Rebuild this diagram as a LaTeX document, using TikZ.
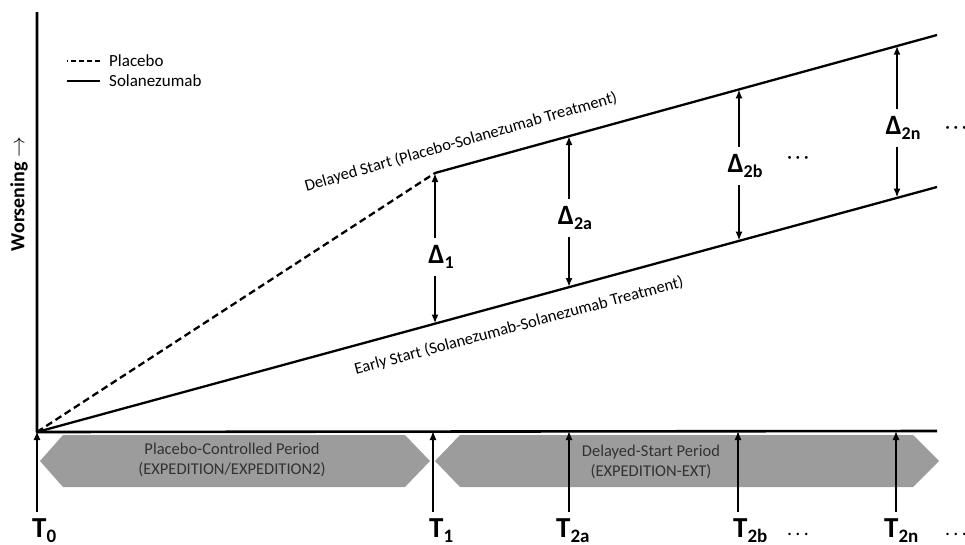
\documentclass[tikz,border=0pt]{standalone}
\usepackage{fontspec}
\setmainfont{Carlito}
\usetikzlibrary{arrows.meta}
\definecolor{bandgray}{RGB}{156,156,156}
\definecolor{bandtext}{RGB}{50,50,50}
\newcommand{\lowsub}[2][15]{\raisebox{-0.2em}{\fontsize{#1}{#1}\selectfont #2}}
\tikzset{
  curve/.style={line width=2.3pt},
  gap/.style={->, line width=1.8pt},
  tick/.style={->, line width=1.3pt},
  delta/.style={font=\fontsize{28}{28}\selectfont\bfseries, inner xsep=2pt, inner ysep=7pt},
  tlabel/.style={font=\fontsize{29}{29}\selectfont\bfseries, inner sep=1pt, anchor=base west},
  band/.style={fill=bandgray, draw=none},
  bandlabel/.style={align=center, text=bandtext, font=\fontsize{16.5}{20}\selectfont},
  lean/.style={font=\fontsize{16.5}{16.5}\selectfont, inner sep=0pt},
  legend/.style={font=\fontsize{17}{17}\selectfont, anchor=west, inner sep=0pt},
  more/.style={font=\fontsize{20}{20}\selectfont, inner sep=0pt},
}
\begin{document}
\begin{tikzpicture}[x=1pt, y=-1pt, line join=round, >={Latex[length=9pt,width=7pt]}]
\useasboundingbox (0,0) rectangle (965,544);
\path
(37,432) coordinate (O)
(37,12) coordinate (Y)
(937,431) coordinate (X)
(435,173) coordinate (K)
(937,35) coordinate (U)
(937,187) coordinate (L);
% periods
\fill[band] (40,461)--(63,435)--(405,435)--(430,461)--(405,487)--(63,487)--cycle;
\fill[band] (435,461)--(460,435)--(913,435)--(939,461)--(913,487)--(460,487)--cycle;
\node[bandlabel] (pcp) at (232,460) {Placebo-Controlled Period\\(EXPEDITION/EXPEDITION2)};
\node[bandlabel] (dsp) at (651,462) {Delayed-Start Period\\(EXPEDITION-EXT)};
% axes and curves
\draw[line width=2.6pt] (Y)--(O)--(X);
\draw[curve, dash pattern=on 7pt off 4pt] (O)--(K);
\draw[curve] (K)--(U) (O)--(L);
\node[rotate=90, font=\fontsize{20}{20}\selectfont\bfseries] (ylab) at (19,194) {Worsening $\rightarrow$};
\node[lean, rotate=16] (late) at (461,142) {Delayed Start (Placebo-Solanezumab Treatment)};
\node[lean, rotate=15] (early) at (519,326) {Early Start (Solanezumab-Solanezumab Treatment)};
% legend
\node[legend] (lp) at (109,61) {Placebo};
\node[legend] (ls) at (109,81) {Solanezumab};
\draw[line width=2.2pt, dash pattern=on 5pt off 3pt] ([xshift=-9pt]lp.west) -- ++(-33,0);
\draw[line width=2.2pt] ([xshift=-9pt]ls.west) -- ++(-33,0);
% differences
\foreach \n/\x/\up/\lo/\mid in {1/435/173/323.5/257, 2a/569/136/287/218, 2b/739/89.3/240.7/166, 2n/897/45.7/197.6/128}{
  \path (\x,\up) coordinate (u\n) (\x,\lo) coordinate (l\n);
  \node[delta] (d\n) at (\x+6,\mid) {Δ\lowsub[18]{\n}};
  \draw[gap] (d\n.north -| u\n) -- (u\n);
  \draw[gap] (d\n.south -| l\n) -- (l\n);
}
\node[more] (m1) at (798,160) {·\,·\,·};
\node[more] (m2) at (956,130) {·\,·\,·};
% time points
\foreach \n/\x/\t in {0/37/38, 1/433/435, 2a/569/562, 2b/738/739, 2n/896/890}{
  \path (\x,431) coordinate (p\n);
  \node[tlabel] (t\n) at (\t-7,537) {T\lowsub[19]{\n}};
  \draw[tick] ([yshift=5pt]t\n.north -| p\n) -- (p\n);
}
\node[more] (m3) at (798,534) {.\,.\,.};
\node[more] (m4) at (956,534) {.\,.\,.};
\end{tikzpicture}
\end{document}
